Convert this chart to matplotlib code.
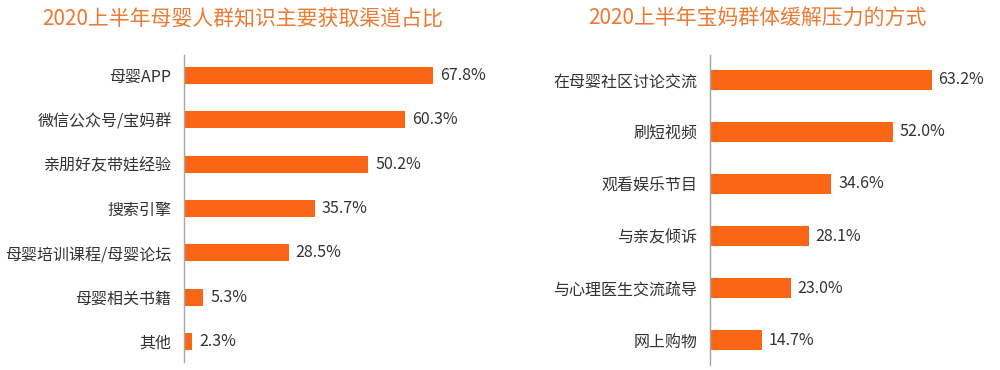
import matplotlib
matplotlib.use("Agg")
import matplotlib.pyplot as plt

plt.rcParams['font.family'] = ['Noto Sans CJK SC', 'DejaVu Sans']

left_title = "2020上半年母婴人群知识主要获取渠道占比"
left_cats = ["母婴APP", "微信公众号/宝妈群", "亲朋好友带娃经验", "搜索引擎",
             "母婴培训课程/母婴论坛", "母婴相关书籍", "其他"]
left_vals = [67.8, 60.3, 50.2, 35.7, 28.5, 5.3, 2.3]

right_title = "2020上半年宝妈群体缓解压力的方式"
right_cats = ["在母婴社区讨论交流", "刷短视频", "观看娱乐节目", "与亲友倾诉",
              "与心理医生交流疏导", "网上购物"]
right_vals = [63.2, 52.0, 34.6, 28.1, 23.0, 14.7]

BAR = '#FA6616'
TITLE = '#EB7A32'
TXT = '#333333'
W, H = 1000, 370

fig = plt.figure(figsize=(10, 3.7), dpi=100)


def panel(x0, y_top, y_bot, xscale, cats, vals, title, title_x, pad):
    n = len(cats)
    height_px = y_bot - y_top
    width_px = 80 * xscale
    ax = fig.add_axes([x0 / W, 1 - y_bot / H, width_px / W, height_px / H])
    ys = list(range(n))
    ax.barh(ys, vals, height=0.38, color=BAR)
    ax.set_xlim(0, 80)
    ax.set_ylim(n - 1 + pad, -pad)
    ax.set_yticks(ys)
    ax.set_yticklabels(cats, fontsize=11.5, color=TXT)
    ax.tick_params(axis='y', length=0, pad=9)
    ax.set_xticks([])
    for s in ['top', 'right', 'bottom']:
        ax.spines[s].set_visible(False)
    ax.spines['left'].set_color('#A8A8A8')
    ax.spines['left'].set_linewidth(1.0)
    for y, v in zip(ys, vals):
        ax.text(v + 1.9, y, f"{v:.1f}%", va='center', ha='left',
                fontsize=11.5, color=TXT)
    fig.text(title_x / W, 1 - 19 / H, title, ha='center', va='center',
             fontsize=15, color=TITLE)
    return ax


panel(184, 55, 362, 3.67, left_cats, left_vals, left_title, 243, 0.46)
panel(710, 55, 365, 3.51, right_cats, right_vals, right_title, 757, 0.48)

fig.savefig("out.png", dpi=100, facecolor='white')
